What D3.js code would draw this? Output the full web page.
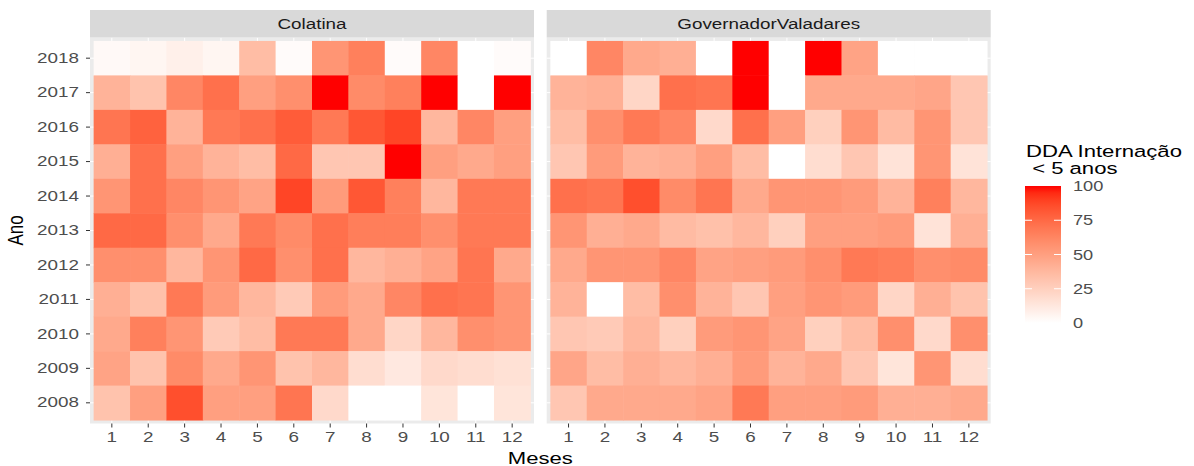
<!DOCTYPE html>
<html>
<head>
<meta charset="utf-8">
<script src="https://cdn.jsdelivr.net/npm/d3@7"></script>
<style>
  body { margin: 0; background: #fff; }
  text { font-family: "Liberation Sans", Arial, sans-serif; }
</style>
</head>
<body>
<svg id="chart" width="1194" height="466"></svg>
<script>

////////////////////////// DATA //////////////////////////

const months = [1, 2, 3, 4, 5, 6, 7, 8, 9, 10, 11, 12]
const years = [2018, 2017, 2016, 2015, 2014, 2013, 2012, 2011, 2010, 2009, 2008]
const cities = ['Colatina', 'GovernadorValadares']
const legendTicks = [0, 25, 50, 75, 100]

// one row per year (same order as years), one value per month
const colatina = [
  [3, 5, 8, 5, 35, 2, 55, 65, 2, 62, 0, 2],
  [40, 32, 62, 72, 50, 58, 100, 60, 65, 100, 0, 100],
  [70, 78, 40, 68, 72, 80, 68, 82, 88, 38, 62, 50],
  [42, 72, 50, 40, 35, 75, 30, 30, 100, 50, 45, 50],
  [55, 72, 62, 55, 48, 88, 52, 82, 65, 38, 68, 68],
  [75, 75, 58, 45, 68, 60, 72, 66, 66, 58, 68, 68],
  [58, 58, 38, 55, 75, 58, 72, 38, 42, 48, 70, 45],
  [42, 33, 68, 52, 38, 28, 52, 45, 62, 72, 70, 55],
  [45, 65, 55, 28, 35, 68, 68, 45, 22, 38, 58, 55],
  [48, 32, 60, 45, 55, 32, 38, 18, 12, 20, 18, 16],
  [32, 50, 85, 50, 50, 70, 20, 0, 0, 14, 0, 14]
]

const valadares = [
  [0, 62, 45, 42, 0, 100, 0, 100, 48, 0, 0, 0],
  [40, 42, 22, 72, 70, 100, 0, 45, 45, 45, 47, 30],
  [35, 58, 68, 62, 20, 72, 50, 25, 55, 36, 55, 30],
  [30, 52, 40, 42, 50, 35, 0, 18, 30, 15, 55, 15],
  [72, 70, 85, 60, 70, 45, 55, 55, 52, 40, 65, 38],
  [55, 42, 45, 36, 33, 38, 25, 50, 50, 52, 15, 42],
  [45, 55, 55, 62, 48, 50, 52, 58, 68, 66, 58, 60],
  [40, 0, 35, 58, 40, 30, 50, 55, 52, 22, 42, 32],
  [30, 28, 38, 25, 52, 55, 48, 25, 35, 58, 20, 58],
  [47, 35, 42, 38, 42, 52, 40, 45, 30, 14, 55, 18],
  [30, 45, 45, 45, 48, 68, 50, 50, 52, 42, 42, 45]
]

const cityValues = [colatina, valadares]

////////////////////////// SETUP //////////////////////////

const SX = 1.3   // the picture is stretched horizontally
const svg = d3.select('#chart')

const panelTop = 37.5, panelBottom = 423.5
const panelLefts = [90, 546.7]
const panelWidth = 444
const stripTop = 10

const colorScale = d3.scaleLinear()
  .domain([0, 100])
  .range(['white', 'red'])
  .interpolate(d3.interpolateLab)

const yScale = d3.scaleBand()
  .domain(years)
  .range([panelTop, panelBottom])
  .paddingInner(0)
  .paddingOuter(0.1)

const stretchText = (sel) => sel.attr('transform', `scale(${SX},1)`)

////////////////////////// PANELS //////////////////////////

cities.forEach((city, ci) => {
  const x0 = panelLefts[ci]
  const xScale = d3.scaleBand()
    .domain(months)
    .range([x0, x0 + panelWidth])
    .paddingInner(0)
    .paddingOuter(0.1)

  // panel background
  svg.append('rect')
    .attr('x', x0).attr('y', panelTop)
    .attr('width', panelWidth).attr('height', panelBottom - panelTop)
    .style('fill', '#EBEBEB')

  // grid lines
  svg.append('g').selectAll('line')
    .data(months).enter().append('line')
    .attr('x1', (d) => xScale(d) + xScale.bandwidth() / 2)
    .attr('x2', (d) => xScale(d) + xScale.bandwidth() / 2)
    .attr('y1', panelTop).attr('y2', panelBottom)
    .style('stroke', 'white').style('stroke-width', 1)
  svg.append('g').selectAll('line')
    .data(years).enter().append('line')
    .attr('y1', (d) => yScale(d) + yScale.bandwidth() / 2)
    .attr('y2', (d) => yScale(d) + yScale.bandwidth() / 2)
    .attr('x1', x0).attr('x2', x0 + panelWidth)
    .style('stroke', 'white').style('stroke-width', 1)

  // tiles
  const cells = []
  years.forEach((yr, i) => months.forEach((m, j) => {
    cells.push({ year: yr, month: m, value: cityValues[ci][i][j] })
  }))

  svg.append('g').selectAll('rect')
    .data(cells).enter().append('rect')
    .attr('x', (d) => xScale(d.month))
    .attr('y', (d) => yScale(d.year))
    .attr('width', xScale.bandwidth() + 0.5)
    .attr('height', yScale.bandwidth() + 0.5)
    .style('fill', (d) => colorScale(d.value))

  // strip
  svg.append('rect')
    .attr('x', x0).attr('y', stripTop)
    .attr('width', panelWidth).attr('height', panelTop - stripTop)
    .style('fill', '#D9D9D9')
  svg.append('text')
    .attr('transform', `translate(${x0 + panelWidth / 2},${(stripTop + panelTop) / 2 + 5.5}) scale(${SX},1)`)
    .attr('text-anchor', 'middle')
    .style('font-size', '14.5px')
    .style('fill', '#1A1A1A')
    .text(city)

  // x axis
  const xAxisG = svg.append('g')
    .attr('transform', `translate(0,${panelBottom})`)
    .call(d3.axisBottom(xScale).tickSize(4).tickPadding(4))
  xAxisG.select('.domain').remove()
  xAxisG.selectAll('line').style('stroke', '#333333')
  xAxisG.selectAll('text')
    .style('font-size', '14.5px')
    .style('fill', '#4D4D4D')
    .call(stretchText)
})

// y axis (left panel only)
const yAxisG = svg.append('g')
  .attr('transform', `translate(${panelLefts[0]},0)`)
  .call(d3.axisLeft(yScale).tickSize(4))
yAxisG.select('.domain').remove()
yAxisG.selectAll('line').style('stroke', '#333333')
yAxisG.selectAll('text')
  .attr('x', -11 / SX)
  .style('font-size', '14.5px')
  .style('fill', '#4D4D4D')
  .call(stretchText)

// axis titles
svg.append('text')
  .attr('transform', `translate(${(panelLefts[0] + panelLefts[1] + panelWidth) / 2},${464}) scale(${SX},1)`)
  .attr('text-anchor', 'middle')
  .style('font-size', '17px')
  .text('Meses')

svg.append('text')
  .attr('transform', `translate(${23},${(panelTop + panelBottom) / 2}) rotate(-90) scale(1,${SX})`)
  .attr('text-anchor', 'middle')
  .style('font-size', '17px')
  .text('Ano')

////////////////////////// LEGEND //////////////////////////

const barX = 1025, barW = 36, barTop = 186, barBottom = 323

const legendScale = d3.scaleLinear().domain([0, 100]).range([barBottom, barTop])

const grad = svg.append('defs').append('linearGradient')
  .attr('id', 'legend-grad')
  .attr('x1', 0).attr('y1', 1).attr('x2', 0).attr('y2', 0)
grad.selectAll('stop')
  .data(d3.range(0, 101, 5)).enter().append('stop')
  .attr('offset', (d) => `${d}%`)
  .attr('stop-color', (d) => colorScale(d))

svg.append('rect')
  .attr('x', barX).attr('y', barTop)
  .attr('width', barW).attr('height', barBottom - barTop)
  .style('fill', 'url(#legend-grad)')

const legendTickG = svg.append('g').selectAll('g')
  .data(legendTicks).enter().append('g')
legendTickG.filter((d) => d > 0 && d < 100).append('line')
  .attr('x1', barX).attr('x2', barX + 7)
  .attr('y1', (d) => legendScale(d)).attr('y2', (d) => legendScale(d))
  .style('stroke', 'white')
legendTickG.filter((d) => d > 0 && d < 100).append('line')
  .attr('x1', barX + barW - 7).attr('x2', barX + barW)
  .attr('y1', (d) => legendScale(d)).attr('y2', (d) => legendScale(d))
  .style('stroke', 'white')
legendTickG.append('text')
  .attr('transform', (d) => `translate(${barX + barW + 12},${legendScale(d) + 5}) scale(${SX},1)`)
  .style('font-size', '14px')
  .style('fill', '#4D4D4D')
  .text((d) => d)

svg.append('text')
  .attr('transform', `translate(${barX + 1},${157}) scale(${SX},1)`)
  .style('font-size', '17px')
  .text('DDA Internação')
svg.append('text')
  .attr('transform', `translate(${barX + 1},${174}) scale(${SX},1)`)
  .style('font-size', '17px')
  .style('white-space', 'pre')
  .text(' < 5 anos')

</script>
</body>
</html>
